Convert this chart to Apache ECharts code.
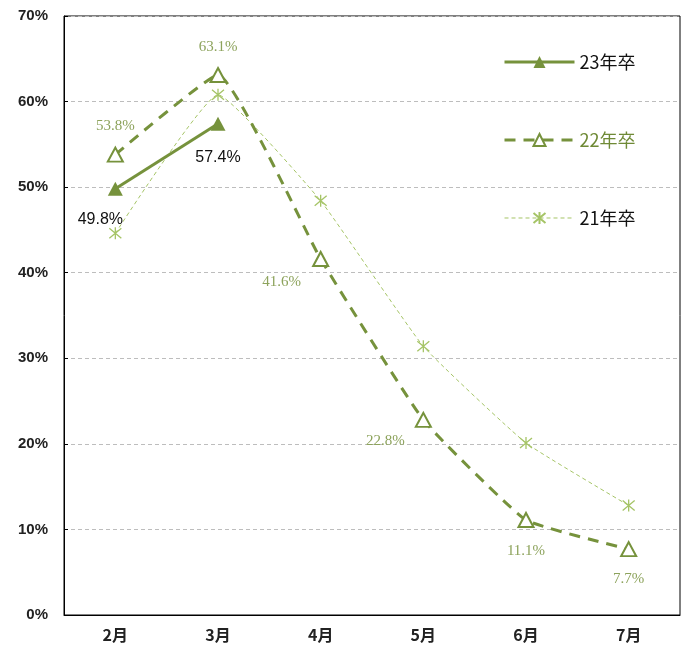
<!DOCTYPE html>
<html><head><meta charset="utf-8">
<script src="https://cdn.jsdelivr.net/npm/echarts@6/dist/echarts.min.js"></script>
<style>html,body{margin:0;padding:0;background:#fff}#c{width:686px;height:652px}</style>
</head><body><div id="c"></div>
<script>
const categories = ['2月','3月','4月','5月','6月','7月'];
const seriesNames = ['23年卒','22年卒','21年卒'];
const s23 = [49.8, 57.4, null, null, null, null];
const s22 = [53.8, 63.1, 41.6, 22.8, 11.1, 7.7];
const s21 = [44.6, 60.8, 48.4, 31.4, 20.1, 12.8];
const yTicks = [0,10,20,30,40,50,60,70];

const c23 = '#76923c', c22 = '#76923c', c21 = '#a5c466', lbl22 = '#8da35c';
const off23 = [[-15,31],[0,34]];
const off22 = [[0,-29],[0,-28],[-39,23],[-38,21],[0,31],[0,30]];
const asterisk = 'path://M0,0L10,10M10,0L0,10M5,-1L5,11';

const chart = echarts.init(document.getElementById('c'));
chart.setOption({
  animation:false,
  grid:{left:64,right:6,top:16,bottom:37,show:true,borderColor:'#000',borderWidth:1,containLabel:false},
  legend:{
    orient:'vertical', left:498, top:48, itemGap:60, itemWidth:70, itemHeight:15,
    textStyle:{fontSize:18,fontFamily:'Noto Sans CJK JP',color:'#111'},
    data:[
      {name:seriesNames[0],lineStyle:{width:3}},
      {name:seriesNames[1],lineStyle:{width:3},textStyle:{color:'#6f8a36'}},
      {name:seriesNames[2],lineStyle:{width:1}}
    ]
  },
  xAxis:{
    type:'category', data:categories, boundaryGap:true,
    axisLine:{lineStyle:{color:'#000',width:1}},
    axisTick:{inside:true,length:5,lineStyle:{color:'#000'}},
    axisLabel:{fontSize:16,fontFamily:'Noto Sans CJK JP',fontWeight:'bold',color:'#222',margin:12}
  },
  yAxis:{
    type:'value', min:yTicks[0], max:yTicks[yTicks.length-1], interval:10,
    axisLine:{show:true,lineStyle:{color:'#000'}},
    axisTick:{show:true,inside:true,length:4,lineStyle:{color:'#000'}},
    splitLine:{lineStyle:{color:'#bdbdbd',type:[4,3]}},
    axisLabel:{fontSize:15,fontFamily:'Liberation Sans',fontWeight:'bold',color:'#222',margin:16,formatter:v=>v+'%'}
  },
  series:[
    {
      name:seriesNames[2], type:'line', smooth:0.12, z:2,
      data:s21, symbol:asterisk, symbolSize:12,
      lineStyle:{color:c21,width:1,type:[4,3]},
      itemStyle:{color:'none',borderColor:c21,borderWidth:1.3}
    },
    {
      name:seriesNames[1], type:'line', smooth:0.12, z:3,
      data:s22.map((v,i)=>({value:v,label:{offset:off22[i]}})),
      symbol:'triangle', symbolSize:[15,14],
      lineStyle:{color:c22,width:3,type:[11,8]},
      itemStyle:{color:'#fff',borderColor:c22,borderWidth:2},
      label:{show:true,position:'inside',formatter:p=>p.value.toFixed(1)+'%',fontFamily:'Liberation Serif',fontSize:15,color:lbl22}
    },
    {
      name:seriesNames[0], type:'line', z:4,
      data:s23.map((v,i)=>(v==null?null:{value:v,label:{offset:off23[i]}})),
      symbol:'triangle', symbolSize:[15,14],
      lineStyle:{color:c23,width:3},
      itemStyle:{color:c23},
      label:{show:true,position:'inside',formatter:p=>p.value.toFixed(1)+'%',fontFamily:'Liberation Sans',fontSize:16,color:'#111'}
    }
  ]
});
</script></body></html>
